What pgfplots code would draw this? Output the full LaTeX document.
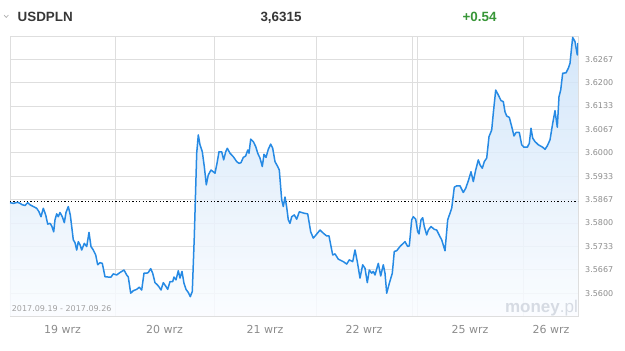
\documentclass[border=0pt]{standalone}
\usepackage{pgfplots}
\usepackage{pgfplotstable}
\pgfplotsset{compat=1.18}
\usepackage{fontspec}
\setmainfont{Liberation Sans}
\newfontfamily\dejavu{DejaVu Sans}
\definecolor{linec}{RGB}{38,138,228}
\definecolor{gridc}{RGB}{222,222,222}
\definecolor{tickc}{RGB}{140,140,140}
\definecolor{hdr}{RGB}{55,55,55}
\definecolor{grn}{RGB}{56,150,56}
\definecolor{wm}{RGB}{214,219,227}
\definecolor{filltop}{RGB}{204,226,248}
\definecolor{fillbot}{RGB}{250,252,255}

\pgfplotstableread{
x y
10 3.5858
13.3 3.5856
17.7 3.5859
20 3.5856
22.3 3.5852
25 3.5850
27.7 3.5858
30 3.5852
33.3 3.5847
36.7 3.5842
39 3.5832
41 3.5818
43.3 3.5842
45.7 3.5823
47.7 3.5797
50 3.5799
51.7 3.5792
53.7 3.5775
55 3.5809
56.7 3.5826
58.3 3.5818
60 3.5830
62.3 3.5818
64.3 3.5801
66 3.5830
68.3 3.5847
70.3 3.5823
71.7 3.5790
73.3 3.5752
75 3.5744
76.7 3.5723
78.3 3.5747
80 3.5738
81.7 3.5723
84.3 3.5742
86.7 3.5733
89 3.5773
91 3.5733
93.3 3.5723
95.7 3.5709
97.7 3.5681
100 3.5687
102.3 3.5685
105 3.5647
108.3 3.5646
111 3.5646
113.3 3.5655
116.7 3.5652
120 3.5659
124 3.5666
126.7 3.5652
128.3 3.5646
130.7 3.5600
133.3 3.5607
136.7 3.5611
139.3 3.5617
141.7 3.5609
144 3.5657
146.7 3.5657
148.3 3.5659
150.7 3.5670
152.7 3.5657
155 3.5630
157.3 3.5624
159.3 3.5617
161 3.5609
163.3 3.5630
166 3.5619
167.7 3.5611
170 3.5633
172.7 3.5633
174 3.5646
176 3.5638
178.3 3.5664
180 3.5643
182 3.5662
184 3.5628
186 3.5611
188.3 3.5602
190.3 3.5590
192.3 3.5605
194.3 3.5761
196.7 3.5999
198.3 3.6051
200 3.6023
202.3 3.6003
204.3 3.5961
206.3 3.5909
208.3 3.5937
211 3.5951
213.3 3.5946
215 3.5942
217 3.5970
219 3.6003
221.7 3.6003
223.7 3.5980
225.7 3.6003
227.3 3.6013
230 3.5999
233.3 3.5989
236.7 3.5975
239 3.5970
241 3.5972
243.3 3.5987
245.7 3.5991
247.7 3.6008
249 3.5999
250.7 3.6039
253.3 3.6032
255.7 3.6018
257.7 3.5999
260 3.5985
262.3 3.5961
264 3.5996
266 3.5987
268.3 3.6010
270.7 3.6025
272.7 3.6013
275 3.5975
277.7 3.5961
279.3 3.5951
281.7 3.5866
283.3 3.5847
285 3.5874
286.7 3.5845
288.3 3.5809
290 3.5799
291.7 3.5818
294.3 3.5823
296.7 3.5811
299.3 3.5832
304 3.5828
307.7 3.5826
310.7 3.5775
313.3 3.5757
316 3.5766
320 3.5780
323.3 3.5771
326.7 3.5763
329 3.5763
332.7 3.5709
335 3.5712
338.3 3.5697
343.3 3.5690
346.7 3.5683
349.3 3.5695
352.7 3.5690
355 3.5723
357.3 3.5690
360 3.5643
362.7 3.5681
365 3.5671
367.3 3.5630
369.3 3.5666
371.7 3.5657
373.3 3.5662
375 3.5652
378.3 3.5685
380.7 3.5649
383.3 3.5681
385 3.5657
386.7 3.5600
389.3 3.5628
392.3 3.5657
394.3 3.5719
396.7 3.5721
400 3.5733
405 3.5747
407.7 3.5733
409.3 3.5735
411.7 3.5809
413.3 3.5818
415.7 3.5811
417.7 3.5775
419 3.5769
421 3.5809
422.7 3.5815
424.3 3.5790
426.7 3.5766
428.3 3.5780
431 3.5790
434.3 3.5782
436.7 3.5780
438.3 3.5771
440 3.5761
441.7 3.5752
445 3.5721
447.7 3.5809
450 3.5828
451.7 3.5842
454.3 3.5902
456.7 3.5906
460 3.5906
463.3 3.5887
465.7 3.5899
468.3 3.5920
471 3.5946
473.3 3.5918
475.7 3.5951
478.3 3.5980
480 3.5966
482.3 3.5956
484.3 3.5975
486.7 3.5985
489 3.6046
491.7 3.6065
493.3 3.6113
495.7 3.6179
498.3 3.6165
501 3.6149
503.3 3.6146
505 3.6117
506.7 3.6105
509.3 3.6101
511.7 3.6075
514 3.6048
516 3.6058
519.3 3.6058
521.7 3.6023
524 3.6016
527.3 3.6016
529.3 3.6027
531 3.6070
532.7 3.6042
535 3.6032
538.3 3.6023
542.7 3.6016
545 3.6010
547.3 3.6020
550 3.6037
552.7 3.6084
555 3.6120
557.3 3.6073
559 3.6160
560.7 3.6179
562.7 3.6227
566 3.6228
568.3 3.6241
570 3.6255
571.7 3.6303
572.7 3.6329
575 3.6317
577.3 3.6279
578 3.6313
}\usdpln

\begin{document}
\begin{tikzpicture}[x=1pt,y=1pt]
\useasboundingbox (0,0) rectangle (625,351);
\begin{axis}[
  at={(10pt,35pt)}, anchor=south west,
  scale only axis, width=568pt, height=280pt,
  xmin=10, xmax=578, ymin=3.5535, ymax=3.6333,
  axis line style={draw=gridc},
  major tick length=0pt,
  xtick={62.5,164.5,265,364,470,551},
  xticklabels={19 wrz,20 wrz,21 wrz,22 wrz,25 wrz,26 wrz},
  xticklabel style={font=\dejavu\fontsize{11}{11}\selectfont, text=tickc, anchor=north, inner sep=0pt, yshift=-9pt},
  extra x ticks={115,214,316,412,417,523},
  extra x tick labels={},
  extra x tick style={grid=major},
  ytick={3.56,3.566667,3.573333,3.58,3.586667,3.593333,3.6,3.606667,3.613333,3.62,3.626667},
  yticklabels={3.5600,3.5667,3.5733,3.5800,3.5867,3.5933,3.6000,3.6067,3.6133,3.6200,3.6267},
  yticklabel pos=right,
  yticklabel style={font=\dejavu\fontsize{8}{8}\selectfont, text=tickc, anchor=west, inner sep=0pt, xshift=7pt},
  ymajorgrids=true,
  grid style={draw=gridc, line width=0.8pt},
  clip=true,
]
\addplot[draw=none, top color=filltop, bottom color=fillbot, fill opacity=0.85]
  table[x=x,y=y]{\usdpln} |- (axis cs:10,3.5535) -- cycle;
\addplot[black, line width=0.8pt, dash pattern=on 1.2pt off 2.2pt] coordinates {(10,3.5862) (578,3.5862)};
\addplot[linec, line width=1.5pt, line join=round, mark=none] table[x=x,y=y]{\usdpln};
\draw[draw=gray!55, line width=0.9pt] (axis cs:10,3.5535) -- (axis cs:578,3.5535);
\end{axis}
\node[anchor=base west, inner sep=0pt, text=tickc!80, font=\dejavu\fontsize{8}{8}\selectfont] at (11.7,39) {2017.09.19 - 2017.09.26};
\node[anchor=base east, inner sep=0pt, text=wm, font=\fontsize{17}{17}\selectfont] at (578,38.5) {\textbf{money}.pl};
\node[anchor=base west, inner sep=0pt, text=hdr, font=\bfseries\fontsize{13.4}{13.4}\selectfont] at (17.5,329.5) {USDPLN};
\node[anchor=base, inner sep=0pt, text=hdr, font=\bfseries\fontsize{13.4}{13.4}\selectfont] at (281,329.5) {3,6315};
\node[anchor=base, inner sep=0pt, text=grn, font=\bfseries\fontsize{13.4}{13.4}\selectfont] at (479.5,329.5) {+0.54};
\draw[gray!70, line width=0.6pt] (4,336) -- (6.2,333.5) -- (8.4,336);
\end{tikzpicture}
\end{document}
